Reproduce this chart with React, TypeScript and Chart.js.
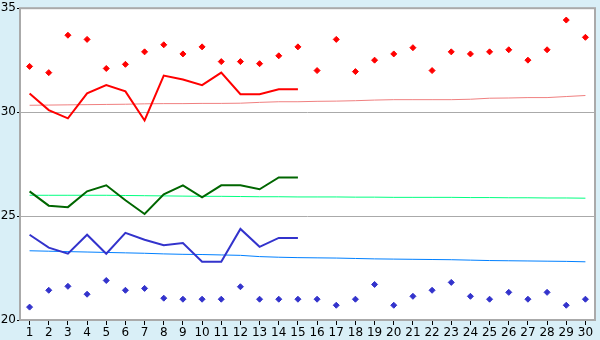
import React, { useEffect, useRef } from "react";
import { Chart, registerables } from "chart.js";

Chart.register(...registerables);

const days = Array.from({ length: 30 }, (_, i) => String(i + 1));

const redPoints = [32.2, 31.9, 33.7, 33.5, 32.1, 32.3, 32.9, 33.24, 32.8, 33.14, 32.43, 32.43, 32.33, 32.71, 33.14, 32.0, 33.5, 31.95, 32.5, 32.8, 33.1, 32.0, 32.9, 32.8, 32.9, 33.0, 32.5, 33.0, 34.43, 33.6];
const redLine = [30.9, 30.1, 29.7, 30.9, 31.3, 31.0, 29.6, 31.76, 31.57, 31.3, 31.9, 30.86, 30.86, 31.1, 31.1];
const redTrend = [30.33, 30.34, 30.35, 30.36, 30.37, 30.38, 30.4, 30.41, 30.41, 30.42, 30.42, 30.43, 30.47, 30.5, 30.5, 30.52, 30.53, 30.55, 30.58, 30.6, 30.6, 30.6, 30.6, 30.62, 30.67, 30.68, 30.7, 30.7, 30.75, 30.8];

const greenLine = [26.19, 25.5, 25.43, 26.19, 26.48, 25.76, 25.1, 26.05, 26.48, 25.9, 26.48, 26.48, 26.29, 26.86, 26.86];
const greenTrend = [26.0, 26.0, 26.0, 26.0, 26.0, 25.99, 25.98, 25.97, 25.96, 25.95, 25.95, 25.94, 25.93, 25.93, 25.92, 25.92, 25.92, 25.91, 25.91, 25.9, 25.9, 25.9, 25.9, 25.89, 25.89, 25.88, 25.88, 25.87, 25.87, 25.86];

const blueLine = [24.1, 23.48, 23.19, 24.1, 23.19, 24.19, 23.86, 23.6, 23.7, 22.8, 22.8, 24.38, 23.52, 23.95, 23.95];
const blueTrend = [23.33, 23.31, 23.29, 23.27, 23.25, 23.23, 23.21, 23.18, 23.16, 23.15, 23.13, 23.11, 23.05, 23.02, 23.0, 22.99, 22.98, 22.96, 22.94, 22.93, 22.92, 22.91, 22.9, 22.88, 22.86, 22.85, 22.84, 22.83, 22.82, 22.8];
const bluePoints = [20.62, 21.43, 21.62, 21.24, 21.9, 21.43, 21.52, 21.05, 21.0, 21.0, 21.0, 21.6, 21.0, 21.0, 21.0, 21.0, 20.71, 21.0, 21.71, 20.71, 21.14, 21.43, 21.81, 21.14, 21.0, 21.33, 21.0, 21.33, 20.71, 21.0];

const yTicks = [20, 25, 30, 35];

const bgPlugin = {
  id: "bgPlugin",
  beforeDraw(chart: any) {
    const { ctx, chartArea, width, height } = chart;
    ctx.save();
    ctx.fillStyle = "#d9eff7";
    ctx.fillRect(0, 0, width, height);
    ctx.fillStyle = "#ffffff";
    ctx.fillRect(chartArea.left, chartArea.top, chartArea.right - chartArea.left, chartArea.bottom - chartArea.top);
    ctx.restore();
  },
  afterDatasetsDraw(chart: any) {
    const { ctx, chartArea } = chart;
    ctx.save();
    ctx.strokeStyle = "#aaaaaa";
    ctx.lineWidth = 2;
    ctx.strokeRect(chartArea.left, chartArea.top, chartArea.right - chartArea.left, chartArea.bottom - chartArea.top);
    ctx.restore();
  },
};

export default function App() {
  const ref = useRef<HTMLCanvasElement | null>(null);
  useEffect(() => {
    if (!ref.current) return;
    const font = { family: "DejaVu Sans", size: 12 };
    const chart = new Chart(ref.current, {
      type: "line",
      data: {
        labels: days,
        datasets: [
          { data: redTrend, borderColor: "#f08080", borderWidth: 1, pointRadius: 0, fill: false, order: 5 },
          { data: greenTrend, borderColor: "#00ff80", borderWidth: 1, pointRadius: 0, fill: false, order: 5 },
          { data: blueTrend, borderColor: "#0080ff", borderWidth: 1, pointRadius: 0, fill: false, order: 5 },
          { data: redLine, borderColor: "#ff0000", borderWidth: 2, pointRadius: 0, fill: false, order: 3 },
          { data: greenLine, borderColor: "#006600", borderWidth: 2, pointRadius: 0, fill: false, order: 3 },
          { data: blueLine, borderColor: "#3333cc", borderWidth: 2, pointRadius: 0, fill: false, order: 3 },
          { data: redPoints, showLine: false, pointStyle: "rectRot", pointRadius: 3, pointBorderWidth: 1, borderColor: "#ff0000", backgroundColor: "#ff0000", order: 1 },
          { data: bluePoints, showLine: false, pointStyle: "rectRot", pointRadius: 3, pointBorderWidth: 1, borderColor: "#3333cc", backgroundColor: "#3333cc", order: 1 },
        ],
      },
      options: {
        animation: false,
        responsive: false,
        maintainAspectRatio: false,
        layout: { padding: { top: 5, right: 5, left: 0, bottom: 0 } },
        plugins: { legend: { display: false }, tooltip: { enabled: false } },
        scales: {
          x: {
            type: "category",
            offset: true,
            grid: { drawOnChartArea: false, drawTicks: true, tickLength: 5, tickColor: "#000000", offset: false },
            border: { display: false },
            ticks: { color: "#000000", font, padding: 1, maxRotation: 0, autoSkip: false },
            afterFit: (s: any) => { s.height = 20; },
          },
          y: {
            min: 20,
            max: 35,
            afterBuildTicks: (s: any) => { s.ticks = yTicks.map((v) => ({ value: v })); },
            grid: { color: "#aaaaaa", lineWidth: 1, drawTicks: true, tickLength: 3, tickColor: "#000000" },
            border: { display: false },
            ticks: { color: "#000000", font, padding: 1 },
            afterFit: (s: any) => { s.width = 20; },
          },
        },
      },
      plugins: [bgPlugin],
    } as any);
    return () => chart.destroy();
  }, []);
  return (
    <div style={{ position: "fixed", left: 0, top: 0, width: 600, height: 340 }}>
      <canvas ref={ref} width={600} height={340} style={{ display: "block", width: 600, height: 340 }} />
    </div>
  );
}
